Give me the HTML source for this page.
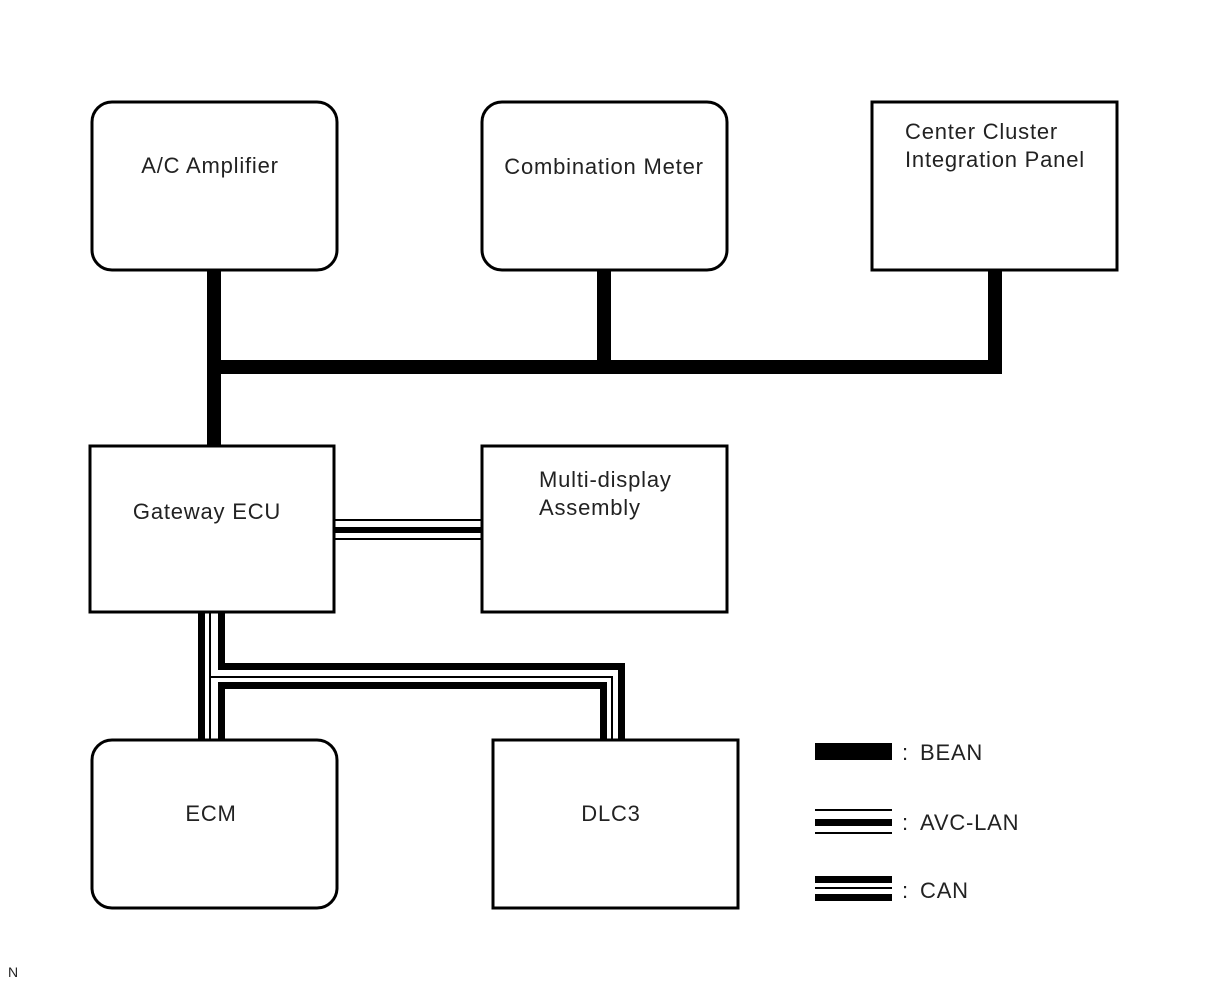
<!DOCTYPE html>
<html><head><meta charset="utf-8"><style>
html,body{margin:0;padding:0;background:#fff;}
svg{display:block;font-family:"Liberation Sans",Arial,sans-serif;}
</style></head><body>
<svg width="1210" height="986" viewBox="0 0 1210 986" xmlns="http://www.w3.org/2000/svg">
<g fill="none" stroke="#000" stroke-width="3">
<rect x="92" y="102" width="245" height="168" rx="20"/>
<rect x="482" y="102" width="245" height="168" rx="20"/>
<rect x="872" y="102" width="245" height="168"/>
<rect x="90" y="446" width="244" height="166"/>
<rect x="482" y="446" width="245" height="166"/>
<rect x="92" y="740" width="245" height="168" rx="20"/>
<rect x="493" y="740" width="245" height="168"/>
</g>
<g fill="#000">
<rect x="207" y="270" width="14" height="176"/>
<rect x="207" y="360" width="795" height="14"/>
<rect x="597" y="270" width="14" height="92"/>
<rect x="988" y="270" width="14" height="104"/>
<rect x="335" y="519" width="147" height="2"/>
<rect x="335" y="527" width="147" height="6"/>
<rect x="335" y="538" width="147" height="2"/>
<rect x="198" y="612" width="7" height="128"/>
<rect x="209" y="612" width="2" height="128"/>
<rect x="218" y="612" width="7" height="56"/>
<rect x="218" y="663" width="407" height="7"/>
<rect x="618" y="663" width="7" height="77"/>
<rect x="209" y="676" width="404" height="2"/>
<rect x="611" y="676" width="2" height="64"/>
<rect x="218" y="682" width="7" height="58"/>
<rect x="218" y="682" width="389" height="7"/>
<rect x="600" y="682" width="7" height="58"/>
<rect x="815" y="743" width="77" height="17"/>
<rect x="815" y="809" width="77" height="2"/>
<rect x="815" y="819" width="77" height="7"/>
<rect x="815" y="832" width="77" height="2"/>
<rect x="815" y="876" width="77" height="7"/>
<rect x="815" y="887" width="77" height="2"/>
<rect x="815" y="894" width="77" height="7"/>
</g>
<g font-size="22" fill="#222" letter-spacing="0.8">
<text x="210" y="173" text-anchor="middle">A/C Amplifier</text>
<text x="604" y="174" text-anchor="middle">Combination Meter</text>
<text x="905" y="139">Center Cluster</text>
<text x="905" y="167">Integration Panel</text>
<text x="207" y="519" text-anchor="middle">Gateway ECU</text>
<text x="539" y="487">Multi-display</text>
<text x="539" y="515">Assembly</text>
<text x="211" y="821" text-anchor="middle">ECM</text>
<text x="611" y="821" text-anchor="middle">DLC3</text>
<text x="902" y="760">:</text><text x="920" y="760">BEAN</text>
<text x="902" y="830">:</text><text x="920" y="830">AVC-LAN</text>
<text x="902" y="898">:</text><text x="920" y="898">CAN</text>
<text x="8" y="977" font-size="14" letter-spacing="0">N</text>
</g>
</svg>
</body></html>
